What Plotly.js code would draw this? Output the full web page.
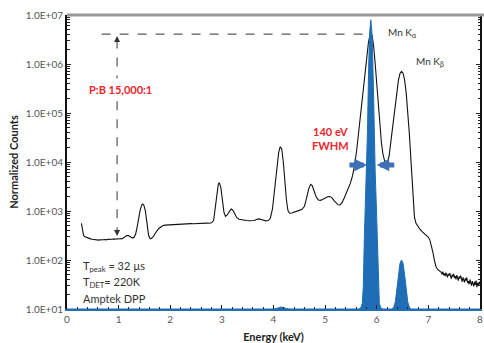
<!DOCTYPE html>
<html>
<head>
<meta charset="utf-8">
<script src="https://cdn.plot.ly/plotly-3.0.1.min.js"></script>
<style>html,body{margin:0;padding:0;background:#fff}#chart{width:484px;height:343px}</style>
</head>
<body>
<div id="chart"></div>
<script>
// Black curve: measured spectrum (normalized counts vs energy, keV)
const spectrumEnergy = [0.28,0.29,0.30,0.32,0.34,0.37,0.40,0.43,0.46,0.49,0.52,0.55,0.58,0.61,0.64,0.67,0.70,0.73,0.76,0.79,0.82,0.85,0.88,0.91,0.94,0.97,1.00,1.03,1.06,1.09,1.12,1.15,1.18,1.21,1.24,1.27,1.30,1.33,1.36,1.39,1.42,1.45,1.47,1.49,1.52,1.55,1.58,1.61,1.64,1.67,1.70,1.74,1.78,1.82,1.86,1.90,1.95,2.00,2.05,2.10,2.15,2.20,2.25,2.30,2.35,2.40,2.45,2.50,2.55,2.60,2.65,2.70,2.75,2.80,2.84,2.87,2.90,2.93,2.95,2.98,3.01,3.04,3.07,3.10,3.14,3.18,3.21,3.25,3.29,3.33,3.38,3.43,3.48,3.53,3.58,3.63,3.68,3.72,3.76,3.80,3.85,3.90,3.94,3.98,4.02,4.06,4.10,4.13,4.16,4.19,4.22,4.25,4.28,4.31,4.35,4.40,4.45,4.50,4.55,4.60,4.64,4.68,4.72,4.75,4.79,4.83,4.87,4.91,4.95,5.00,5.05,5.09,5.13,5.17,5.21,5.25,5.29,5.33,5.37,5.41,5.45,5.49,5.53,5.57,5.61,5.65,5.69,5.73,5.77,5.81,5.84,5.87,5.89,5.91,5.94,5.97,6.00,6.03,6.06,6.09,6.12,6.15,6.18,6.21,6.24,6.27,6.30,6.34,6.38,6.42,6.45,6.48,6.51,6.54,6.57,6.60,6.63,6.66,6.69,6.71,6.73,6.76,6.80,6.84,6.88,6.92,6.96,7.00,7.03,7.06,7.09,7.12,7.15,7.18,7.21,7.235,7.250,7.265,7.280,7.295,7.310,7.325,7.340,7.355,7.370,7.385,7.400,7.415,7.430,7.445,7.460,7.475,7.490,7.505,7.520,7.535,7.550,7.565,7.580,7.595,7.610,7.625,7.640,7.655,7.670,7.685,7.700,7.715,7.730,7.745,7.760,7.775,7.790,7.805,7.820,7.835,7.850,7.865,7.880,7.895,7.910,7.925,7.940,7.955,7.970,7.985,8.000];
const spectrumCounts = [560,480,380,320,300,290,282,276,270,266,262,258,256,254,258,255,259,262,258,264,262,268,265,270,266,272,268,274,270,282,300,312,318,308,292,280,290,340,480,760,1080,1330,1390,1300,980,560,320,270,278,300,340,390,440,480,505,515,520,528,524,532,536,540,538,545,548,552,550,556,558,554,562,566,563,575,640,1100,2200,3500,3800,3000,1700,950,780,820,960,1100,1050,880,730,680,660,650,640,632,628,640,680,690,670,640,628,640,720,1100,2600,7000,15500,20500,18500,10000,4000,1700,1020,900,910,940,980,1030,1080,1250,1800,2800,3500,3300,2500,1900,1680,1650,1720,1850,1950,1980,1880,1650,1450,1340,1330,1500,1850,2300,2900,3700,5200,8500,17000,40000,95000,230000,650000,1600000,2800000,3900000,4200000,3800000,2300000,1000000,380000,140000,55000,25000,14500,10800,9500,10000,13500,24000,48000,110000,250000,470000,640000,710000,650000,470000,260000,110000,40000,12000,3200,1300,760,560,470,420,380,350,320,290,255,200,140,95,72,64,60,57,56,51,58,49,53,47,55,50,44,52,48,54,45,41,50,46,52,43,47,40,49,44,38,46,42,48,39,36,44,40,35,42,38,44,34,37,32,40,35,30,37,33,29,36,31,38,28,34,30,36,32];

// Blue filled curve: reference peaks
const peakEnergy = [0,4.00,4.08,4.15,4.22,4.30,5.65,5.69,5.72,5.74,5.76,5.78,5.80,5.82,5.84,5.86,5.885,5.91,5.93,5.95,5.97,5.99,6.01,6.03,6.05,6.08,6.12,6.30,6.33,6.36,6.39,6.42,6.45,6.48,6.51,6.54,6.57,6.60,6.63,6.66,8.0];
const peakCounts = [10,10,10.4,11,10.4,10,10,10.5,13,30,300,1500,6000,40000,600000,4000000,8000000,4000000,600000,40000,6000,1500,300,30,13,10.5,10,10,11,14,25,50,85,100,85,50,25,14,11,10,10];

// Axis tick labels
const yTickVals = [1e1,1e2,1e3,1e4,1e5,1e6,1e7];
const yTickText = ["1.0E+01","1.0E+02","1.0E+03","1.0E+04","1.0E+05","1.0E+06","1.0E+07"];
const xTickVals = [0,1,2,3,4,5,6,7,8];

const BLUE = '#1f6db5';
const RED = '#e8262c';
const FONT = 'Lato, "Open Sans", sans-serif';
const P = (lg) => Math.pow(10, lg);

const traces = [
  {x: spectrumEnergy, y: spectrumCounts, type: 'scatter', mode: 'lines',
   line: {color: '#111', width: 1.1}, hoverinfo: 'skip'},
  {x: peakEnergy, y: peakCounts, type: 'scatter', mode: 'lines', fill: 'tozeroy',
   fillcolor: BLUE, line: {color: BLUE, width: 1}, hoverinfo: 'skip'}
];

const layout = {
  width: 484, height: 343,
  margin: {l: 67, r: 4, t: 15, b: 34},
  paper_bgcolor: '#fff', plot_bgcolor: '#fff',
  showlegend: false,
  font: {family: FONT, size: 10, color: '#444'},
  xaxis: {
    range: [0, 8], tickvals: xTickVals, showgrid: false, zeroline: false,
    showline: true, linecolor: BLUE, linewidth: 2,
    ticks: 'inside', ticklen: 4, tickcolor: '#222', tickwidth: 1,
    minor: {dtick: 0.2, ticks: 'inside', ticklen: 2.5, tickcolor: '#222'},
    tickfont: {family: FONT, size: 10, color: '#555'},
    title: {text: '<b>Energy (keV)</b>', font: {family: FONT, size: 11, color: '#222'}, standoff: 10}
  },
  yaxis: {
    type: 'log', range: [1, 7], tickvals: yTickVals, ticktext: yTickText,
    showgrid: false, zeroline: false, showline: true, linecolor: '#111', linewidth: 2,
    mirror: 'ticks', ticks: 'inside', ticklen: 4, tickcolor: '#222',
    minor: {dtick: 'D1', ticks: 'inside', ticklen: 2.5, tickcolor: '#222'},
    tickfont: {family: FONT, size: 10, color: '#555'},
    title: {text: '<b>Normalized Counts</b>', font: {family: FONT, size: 11, color: '#222'}, standoff: 5}
  },
  shapes: [
    {type: 'line', xref: 'paper', yref: 'paper', x0: 0, x1: 1.01, y0: 1, y1: 1,
     line: {color: '#999', width: 3}},
    {type: 'line', xref: 'x', yref: 'y', x0: 0.67, x1: 5.88, y0: P(6.61), y1: P(6.61),
     line: {color: '#333', width: 1, dash: 'dash'}},
    {type: 'line', xref: 'x', yref: 'y', x0: 0.97, x1: 0.97, y0: P(6.5), y1: P(5.71),
     line: {color: '#333', width: 1, dash: 'dash'}},
    {type: 'line', xref: 'x', yref: 'y', x0: 0.97, x1: 0.97, y0: P(5.24), y1: P(2.6),
     line: {color: '#333', width: 1, dash: 'dash'}}
  ],
  annotations: [
    {x: 0.97, y: 6.57, xref: 'x', yref: 'y', text: '', showarrow: true, ax: 0, ay: 7,
     arrowhead: 2, arrowsize: 1, arrowwidth: 1.2, arrowcolor: '#333', standoff: 0},
    {x: 0.97, y: 2.49, xref: 'x', yref: 'y', text: '', showarrow: true, ax: 0, ay: -7,
     arrowhead: 2, arrowsize: 1, arrowwidth: 1.2, arrowcolor: '#333', standoff: 0},
    {x: 1.03, y: 5.47, xref: 'x', yref: 'y', text: '<b>P:B 15,000:1</b>', showarrow: false,
     font: {family: FONT, size: 11, color: RED}},
    {x: 5.1, y: 4.47, xref: 'x', yref: 'y', text: '<b>140 eV<br>FWHM</b>', showarrow: false,
     font: {family: FONT, size: 11, color: RED}},
    {x: 5.81, y: 3.94, xref: 'x', yref: 'y', text: '', showarrow: true, ax: -19, ay: 0,
     arrowhead: 2, arrowsize: 0.5, arrowwidth: 5, arrowcolor: '#3f6fb5', standoff: 0},
    {x: 6.0, y: 3.94, xref: 'x', yref: 'y', text: '', showarrow: true, ax: 19, ay: 0,
     arrowhead: 2, arrowsize: 0.5, arrowwidth: 5, arrowcolor: '#3f6fb5', standoff: 0},
    {x: 6.18, y: 6.65, xref: 'x', yref: 'y', xanchor: 'left', text: 'Mn K<sub>α</sub>', showarrow: false,
     font: {family: FONT, size: 10, color: '#333'}},
    {x: 6.72, y: 6.06, xref: 'x', yref: 'y', xanchor: 'left', text: 'Mn K<sub>β</sub>', showarrow: false,
     font: {family: FONT, size: 10, color: '#333'}},
    {x: 0.27, y: 1 + (309-266)/49, xref: 'x', yref: 'y', xanchor: 'left', text: 'T<sub>peak</sub> = 32 µs', showarrow: false,
     font: {family: FONT, size: 11, color: '#333'}},
    {x: 0.27, y: 1 + (309-282)/49, xref: 'x', yref: 'y', xanchor: 'left', text: 'T<sub>DET</sub>= 220K', showarrow: false,
     font: {family: FONT, size: 11, color: '#333'}},
    {x: 0.27, y: 1 + (309-298)/49, xref: 'x', yref: 'y', xanchor: 'left', text: 'Amptek DPP', showarrow: false,
     font: {family: FONT, size: 11, color: '#333'}}
  ]
};

Plotly.newPlot('chart', traces, layout, {staticPlot: true, displayModeBar: false});
</script>
</body>
</html>
